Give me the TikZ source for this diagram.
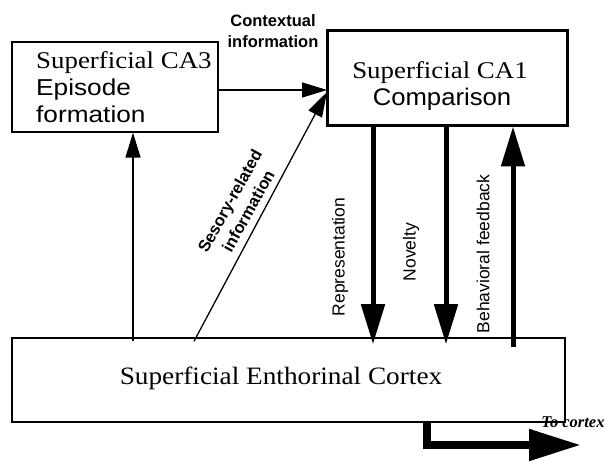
\documentclass[tikz,border=0pt]{standalone}
\usepackage{fontspec}
\usepackage{graphicx}
\setmainfont{Liberation Serif}
\setsansfont{Liberation Sans}
\newfontfamily\sansn{Liberation Sans}
\newcommand{\hstretch}[2]{\scalebox{#1}[1]{#2}}
\usetikzlibrary{arrows.meta,calc}
\tikzset{
  box/.style={draw, rectangle, inner sep=0pt},
  boxtext/.style={inner sep=0pt},
  thinarrow/.style={line width=1.3pt, -{Triangle[length=25pt,width=15pt]}},
  thickarrow/.style={line width=5pt, -{Triangle[length=40pt,width=23pt]}},
  blabel/.style={font=\sansn\bfseries\fontsize{16.5}{21}\selectfont, align=center, inner sep=0pt},
  vlabel/.style={font=\sansn\fontsize{17.5}{20}\selectfont, rotate=90, inner sep=0pt},
}
\begin{document}
\begin{tikzpicture}[x=1pt,y=-1pt]
\useasboundingbox (0,0) rectangle (605,462);
% boxes
\node[box, line width=1.3pt, minimum width=206pt, minimum height=90pt] (ca3) at (115,87) {};
\node[box, line width=3pt, minimum width=240pt, minimum height=95pt] (ca1) at (447,78.5) {};
\node[box, line width=1.5pt, minimum width=553pt, minimum height=84pt] (ec) at (288.5,380) {};
% box texts
\node[boxtext, anchor=base west] (ca3a) at (36,69) {\fontsize{24}{24}\selectfont\hstretch{1.12}{Superficial CA3}};
\node[boxtext, anchor=base west] (ca3b) at (36,96) {\sffamily\fontsize{23}{24}\selectfont\hstretch{1.14}{Episode}};
\node[boxtext, anchor=base west] (ca3c) at (36,123) {\sffamily\fontsize{23}{24}\selectfont\hstretch{1.14}{formation}};
\node[boxtext, anchor=base] (ca1a) at (440,79) {\fontsize{24}{24}\selectfont\hstretch{1.12}{Superficial CA1}};
\node[boxtext, anchor=base] (ca1b) at (442,106) {\sffamily\fontsize{24}{24}\selectfont\hstretch{1.07}{Comparison}};
\node[boxtext, anchor=base] (ect) at (281,384) {\fontsize{25}{26}\selectfont\hstretch{1.09}{Superficial Enthorinal Cortex}};
% connectors
\coordinate (ca1in) at (327,92);
\draw[thinarrow] (ca3.east |- 0,90) -- (ca1in |- 0,90);
\draw[thinarrow] ([xshift=-94.5pt,yshift=-4pt]ec.north) -- (ca1in);
\draw[thinarrow] ([yshift=-4pt]ec.north -| 133,0) -- (ca3.south -| 133,0);
\draw[thickarrow] (ca1.south -| 373,0) -- ([yshift=-7pt]ec.north -| 373,0);
\draw[thickarrow] (ca1.south -| 446,0) -- ([yshift=-7pt]ec.north -| 446,0);
\draw[thickarrow] ([yshift=-10pt]ec.north -| 513,0) -- ([yshift=1pt]ca1.south -| 513,0);
\coordinate (tocortex) at (581,445);
\draw[line width=8pt, -{Triangle[length=52pt,width=30pt]}] ([xshift=138.5pt,yshift=2pt]ec.south) |- (tocortex);
% labels
\node[blabel] (lctx) at (273,31) {Contextual\\information};
\node[blabel, rotate=61] (lsens) at (239,206) {Sesory-related\\information};
\node[vlabel] (lrep) at (340,257) {Representation};
\node[vlabel] (lnov) at (411,252) {Novelty};
\node[vlabel] (lbeh) at (483,254) {Behavioral feedback};
\node[inner sep=0pt, anchor=base, font=\rmfamily\bfseries\itshape\fontsize{16.5}{17}\selectfont] (ltc) at (573,427) {To cortex};
\end{tikzpicture}
\end{document}
